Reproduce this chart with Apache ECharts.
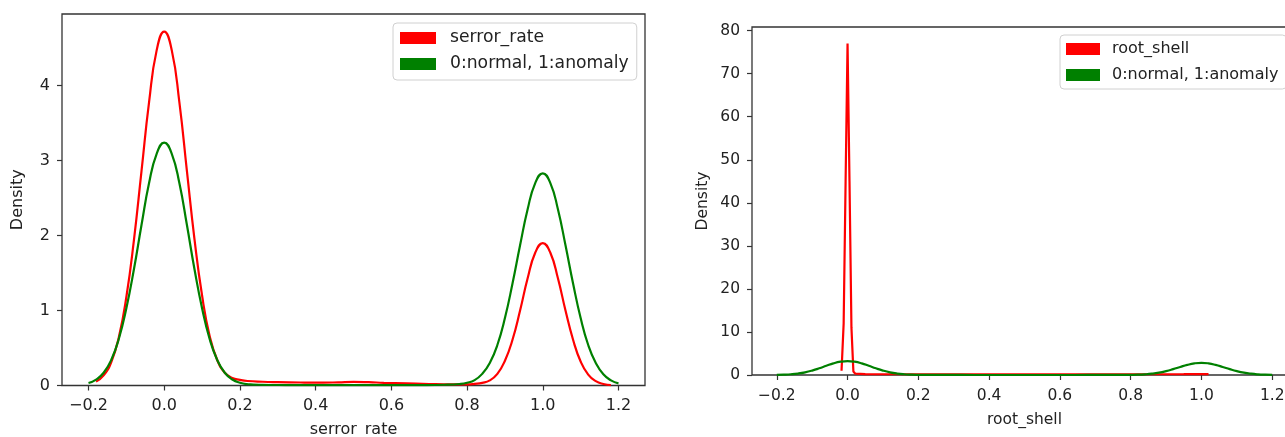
<!DOCTYPE html>
<html>
<head>
<meta charset="utf-8">
<script src="https://cdn.jsdelivr.net/npm/echarts@6/dist/echarts.min.js"></script>
<style>
  html, body { margin: 0; padding: 0; background: #fff; overflow: hidden; }
  #chart { width: 1285px; height: 437px; }
</style>
</head>
<body>
<div id="chart"></div>
<script>
// serror_rate density curve
const serrorX = [-0.18,-0.16,-0.14,-0.12,-0.10,-0.08,-0.06,-0.04,-0.02,0,0.02,0.04,0.06,0.08,0.10,0.12,0.14,0.16,0.18,0.20,0.22,
  0.26,0.30,0.36,0.42,0.46,0.50,0.54,0.58,0.64,0.70,0.76,0.80,
  0.82,0.84,0.86,0.88,0.90,0.92,0.94,0.96,0.98,1.00,1.02,1.04,1.06,1.08,1.10,1.12,1.14,1.16,1.18];
const serrorY = [0.052,0.135,0.31,0.64,1.18,1.94,2.86,3.78,4.47,4.72,4.47,3.78,2.86,1.95,1.20,0.66,0.34,0.17,0.10,0.075,0.06,
  0.05,0.045,0.04,0.038,0.042,0.048,0.044,0.036,0.028,0.02,0.016,0.016,
  0.022,0.035,0.068,0.155,0.33,0.61,1.00,1.43,1.77,1.90,1.77,1.43,1.00,0.61,0.32,0.146,0.058,0.02,0.006];

// label density curve (0:normal, 1:anomaly), shared by both panels
const labelX = [-0.20,-0.18,-0.16,-0.14,-0.12,-0.10,-0.08,-0.06,-0.04,-0.02,0,0.02,0.04,0.06,0.08,0.10,0.12,0.14,0.16,0.18,0.20,0.22,
  0.26,0.32,0.40,0.50,0.60,0.68,0.74,0.78,
  0.80,0.82,0.84,0.86,0.88,0.90,0.92,0.94,0.96,0.98,1.00,1.02,1.04,1.06,1.08,1.10,1.12,1.14,1.16,1.18,1.20];
const labelY = [0.033,0.079,0.17,0.34,0.62,1.03,1.55,2.14,2.70,3.09,3.24,3.09,2.70,2.14,1.55,1.03,0.62,0.34,0.17,0.08,0.036,0.018,
  0.009,0.006,0.005,0.005,0.005,0.006,0.01,0.02,
  0.036,0.072,0.155,0.30,0.54,0.90,1.36,1.87,2.35,2.70,2.83,2.70,2.35,1.87,1.36,0.90,0.54,0.30,0.15,0.069,0.029];

// root_shell density curve
const rootShellX = [-0.017,-0.011,-0.0055,0,0.0055,0.011,0.0165,0.022,0.05,0.2,0.5,0.8,0.95,1.0,1.02];
const rootShellY = [1.0,12,45,77,45,11,0.8,0.3,0.2,0.18,0.18,0.18,0.2,0.22,0.22];

// tick values
const xTicks = [-0.2,0,0.2,0.4,0.6,0.8,1.0,1.2];
const serrorYTicks = [0,1,2,3,4];
const rootShellYTicks = [0,10,20,30,40,50,60,70,80];

const RED = '#ff0000';
const GREEN = '#008000';
const INK = '#222';
const FONT = 'DejaVu Sans';

const pairs = (xs, ys) => xs.map((x, i) => [x, ys[i]]);
const fmtX = v => (v < 0 ? '\u2212' : '') + Math.abs(v).toFixed(1);

function xAxisFor(gridIndex, name, fontSize, nameGap, margin) {
  return {
    type: 'value', gridIndex, min: -0.27, max: 1.27, name,
    nameLocation: 'middle', nameGap,
    nameTextStyle: { color: INK, fontFamily: FONT, fontSize },
    axisLine: { show: false, onZero: false },
    axisTick: { show: true, length: 5, lineStyle: { color: '#333', width: 1.2 }, customValues: xTicks },
    axisLabel: { color: INK, fontFamily: FONT, fontSize, margin, formatter: fmtX, customValues: xTicks },
    splitLine: { show: false }
  };
}
function yAxisFor(gridIndex, max, ticks, fontSize, nameGap, margin) {
  return {
    type: 'value', gridIndex, min: 0, max, name: 'Density',
    nameLocation: 'middle', nameGap,
    nameTextStyle: { color: INK, fontFamily: FONT, fontSize },
    axisLine: { show: false, onZero: false },
    axisTick: { show: true, length: 5, lineStyle: { color: '#333', width: 1.2 }, customValues: ticks },
    axisLabel: { color: INK, fontFamily: FONT, fontSize, margin, customValues: ticks },
    splitLine: { show: false }
  };
}
function legendFor(left, top, names, fontSize, padding, itemWidth, textPad) {
  return {
    orient: 'vertical', left, top, data: names, selectedMode: false,
    icon: 'rect', itemWidth, itemHeight: 12, itemGap: 8,
    padding, borderColor: '#d0d0d0', borderWidth: 1, borderRadius: 4,
    backgroundColor: 'rgba(255,255,255,0.85)',
    textStyle: { color: INK, fontFamily: FONT, fontSize, lineHeight: 18, padding: [0, 0, 0, textPad] }
  };
}
function curve(name, xi, color, xs, ys, smooth) {
  return {
    type: 'line', name, xAxisIndex: xi, yAxisIndex: xi,
    data: pairs(xs, ys), showSymbol: false, symbol: 'none',
    smooth,
    color, itemStyle: { color },
    lineStyle: { color, width: 2.2 }, z: color === GREEN ? 3 : 2
  };
}

const chart = echarts.init(document.getElementById('chart'), null, { renderer: 'canvas' });
chart.setOption({
  animation: false,
  backgroundColor: '#fff',
  grid: [
    { left: 62, top: 14, width: 583, height: 371.5, show: true, borderColor: '#333', borderWidth: 1.3,
      containLabel: false, outerBoundsMode: 'none' },
    { left: 752, top: 27, width: 545, height: 348, show: true, borderColor: '#333', borderWidth: 1.3,
      containLabel: false, outerBoundsMode: 'none' }
  ],
  xAxis: [
    xAxisFor(0, 'serror_rate', 16, 36, 12),
    xAxisFor(1, 'root_shell', 15.5, 37, 13)
  ],
  yAxis: [
    yAxisFor(0, 4.955, serrorYTicks, 16, 36, 12),
    yAxisFor(1, 80.85, rootShellYTicks, 15.5, 41, 12)
  ],
  legend: [
    legendFor(393, 23, ['serror_rate', '0:normal, 1:anomaly'], 17.2, [6, 8, 7, 7], 36, 9),
    legendFor(1060, 35, ['root_shell', '0:normal, 1:anomaly'], 16, [5, 8, 5, 6], 34, 7)
  ],
  series: [
    curve('serror_rate', 0, RED, serrorX, serrorY, 0.5),
    curve('0:normal, 1:anomaly', 0, GREEN, labelX, labelY, 0.5),
    curve('root_shell', 1, RED, rootShellX, rootShellY, false),
    curve('0:normal, 1:anomaly', 1, GREEN, labelX, labelY, 0.5)
  ]
});
</script>
</body>
</html>
